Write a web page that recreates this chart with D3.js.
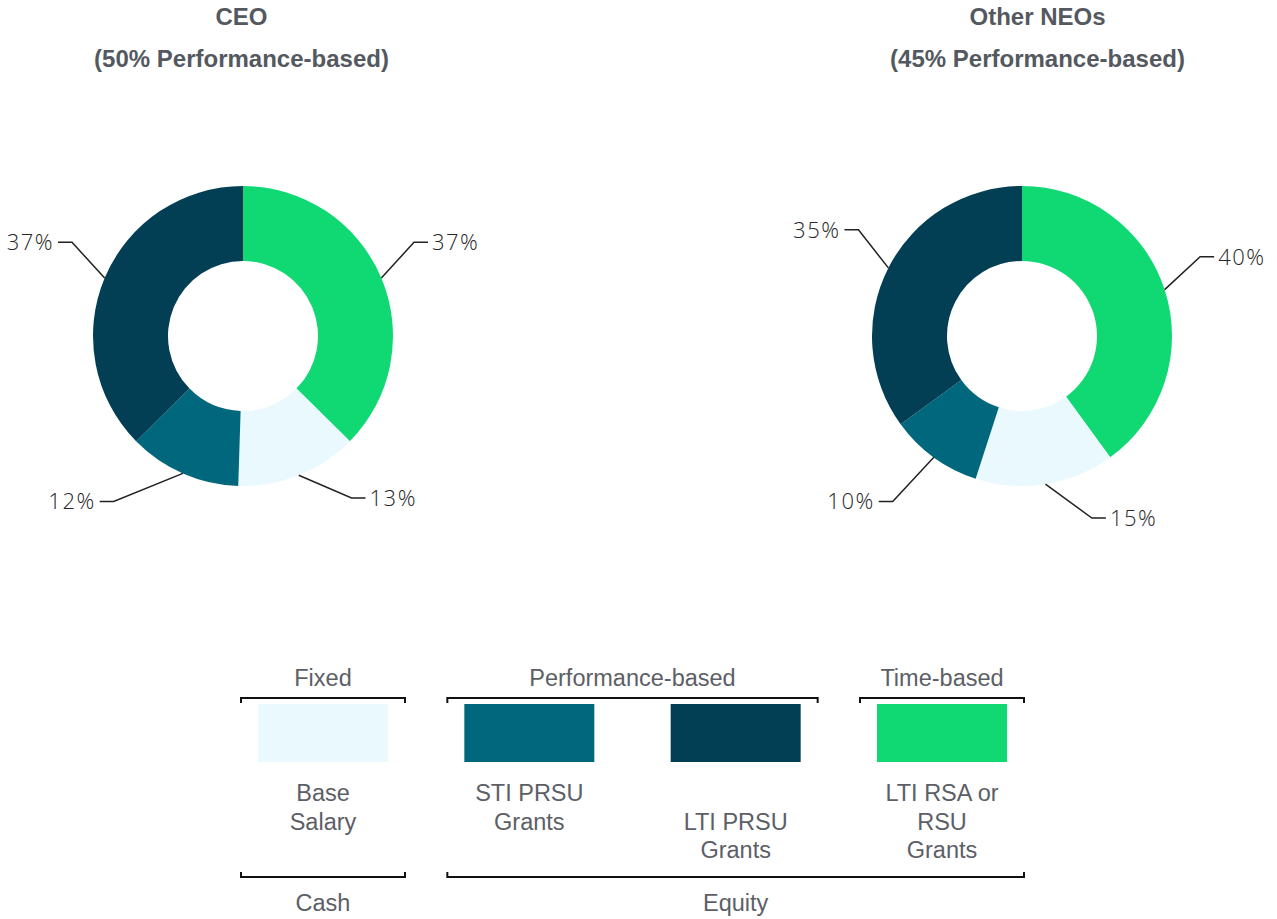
<!DOCTYPE html>
<html>
<head>
<meta charset="utf-8">
<script src="https://cdn.jsdelivr.net/npm/d3@7"></script>
<style>
  html, body { margin: 0; padding: 0; background: #ffffff; }
  svg { display: block; }
</style>
</head>
<body>
<div id="chart"></div>
<script>
// Pay mix donuts (CEO vs Other NEOs) with grouped legend

// Pay components, in legend order
const components = ['Base Salary', 'STI PRSU Grants', 'LTI PRSU Grants', 'LTI RSA or RSU Grants'];
const componentLines = [['Base', 'Salary'], ['STI PRSU', 'Grants'], ['LTI PRSU', 'Grants'], ['LTI RSA or', 'RSU', 'Grants']];
const componentColors = ['#eaf9fd', '#00677d', '#023f54', '#10d974'];

// Share of pay (%) per component, same order as components
const ceoMix = [13, 12, 37, 37];
const neoMix = [15, 10, 35, 40];

// Clockwise from 12 o'clock: time-based LTI, base, STI, LTI PRSU
const sliceOrder = [3, 0, 1, 2];

const charts = [
    { title: 'CEO', subtitle: '(50% Performance-based)', values: ceoMix },
    { title: 'Other NEOs', subtitle: '(45% Performance-based)', values: neoMix }
];

const topGroups = [
    { label: 'Fixed', items: [0] },
    { label: 'Performance-based', items: [1, 2] },
    { label: 'Time-based', items: [3] }
];
const bottomGroups = [
    { label: 'Cash', items: [0] },
    { label: 'Equity', items: [1, 2, 3] }
];

// Layout
const W = 1277, H = 919;
const donutX = [243, 1022];
const titleX = [241.5, 1037.5];
const donutY = 336;
const outerR = 150, innerR = 75;
const labelFont = "'Open Sans', 'Noto Sans', sans-serif";
const textFont = "'Liberation Sans', Arial, sans-serif";
const deg = Math.PI / 180;

const svg = d3.select('#chart').append('svg')
    .attr('width', W)
    .attr('height', H);

const pie = d3.pie().sort(null).value(d => d.value);
const arc = d3.arc().innerRadius(innerR).outerRadius(outerR);

// Where the leader line bends: spread labels away from the donut
function elbow(mid) {
    const right = Math.sin(mid) >= 0;
    const top = Math.cos(mid) > 0;
    let a = mid, r = outerR * 1.3;
    if (top) {
        a = mid + (right ? -6 : 6) * deg;
    } else if (right) {
        a = mid - 12 * deg;
    } else {
        a = Math.max(mid, 218 * deg);
        r = outerR * 1.4;
    }
    return [r * Math.sin(a), -r * Math.cos(a)];
}

charts.forEach((c, ci) => {
    // Titles
    [c.title, c.subtitle].forEach((t, ti) => {
        svg.append('text')
            .attr('x', titleX[ci])
            .attr('y', 25 + ti * 42)
            .attr('text-anchor', 'middle')
            .style('font-family', textFont)
            .style('font-weight', '700')
            .style('font-size', '24px')
            .style('fill', '#54585f')
            .text(t);
    });

    const slices = sliceOrder.map(i => ({ idx: i, value: c.values[i] }));
    const arcs = pie(slices);

    const g = svg.append('g')
        .attr('transform', `translate(${donutX[ci]},${donutY})`);

    g.selectAll('.slice')
        .data(arcs)
        .enter()
        .append('path')
        .attr('class', 'slice')
        .attr('d', arc)
        .attr('fill', d => componentColors[d.data.idx]);

    // Leader lines + labels
    arcs.forEach(d => {
        const mid = (d.startAngle + d.endAngle) / 2;
        const s = Math.sin(mid) >= 0 ? 1 : -1;
        const x0 = outerR * Math.sin(mid), y0 = -outerR * Math.cos(mid);
        const [x1, y1] = elbow(mid);
        const x2 = x1 + s * 14;

        g.append('polyline')
            .attr('points', `${x0},${y0} ${x1},${y1} ${x2},${y1}`)
            .attr('fill', 'none')
            .attr('stroke', '#222')
            .attr('stroke-width', 1.5);

        g.append('text')
            .attr('x', x2 + s * 4)
            .attr('y', y1)
            .attr('dy', '0.36em')
            .attr('text-anchor', s > 0 ? 'start' : 'end')
            .style('font-family', labelFont)
            .style('font-weight', '300')
            .style('font-size', '22px')
            .style('letter-spacing', '1.5px')
            .style('fill', '#262626')
            .text(d.data.value + '%');
    });
});

// Legend
const xLegend = d3.scalePoint()
    .domain(d3.range(components.length))
    .range([323, 942]);
const swW = 130, swH = 58, swY = 704;
const pad = swW / 2 + 17;
const lineH = 28.5;
const labelShift = [0, 0, 1, 0];

const legend = svg.append('g').attr('class', 'legend');

legend.selectAll('.swatch')
    .data(components)
    .enter()
    .append('rect')
    .attr('class', 'swatch')
    .attr('x', (d, i) => xLegend(i) - swW / 2)
    .attr('y', swY)
    .attr('width', swW)
    .attr('height', swH)
    .attr('fill', (d, i) => componentColors[i]);

components.forEach((d, i) => {
    const t = legend.append('text')
        .attr('text-anchor', 'middle')
        .style('font-family', textFont)
        .style('font-size', '23.5px')
        .style('fill', '#5c6066');
    componentLines[i].forEach((line, li) => {
        t.append('tspan')
            .attr('x', xLegend(i))
            .attr('y', 801 + (li + labelShift[i]) * lineH)
            .text(line);
    });
});

function drawBracket(group, lineY, tickDir, labelY) {
    const x0 = d3.min(group.items, i => xLegend(i)) - pad;
    const x1 = d3.max(group.items, i => xLegend(i)) + pad;
    legend.append('path')
        .attr('d', `M${x0},${lineY + tickDir * 5}V${lineY}H${x1}V${lineY + tickDir * 5}`)
        .attr('fill', 'none')
        .attr('stroke', '#111')
        .attr('stroke-width', 2);
    legend.append('text')
        .attr('x', (x0 + x1) / 2)
        .attr('y', labelY)
        .attr('text-anchor', 'middle')
        .style('font-family', textFont)
        .style('font-size', '23.5px')
        .style('fill', '#5c6066')
        .text(group.label);
}

topGroups.forEach(gp => drawBracket(gp, 698, 1, 686));
bottomGroups.forEach(gp => drawBracket(gp, 877, -1, 911));
</script>
</body>
</html>
